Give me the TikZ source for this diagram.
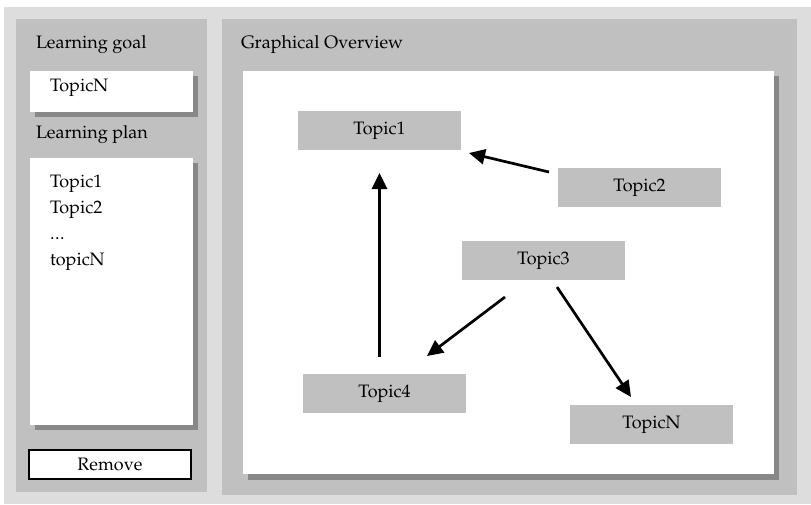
\documentclass[tikz,border=0pt]{standalone}
\usepackage[T1]{fontenc}
\usepackage{mathpazo}
\usetikzlibrary{arrows.meta,calc}
\definecolor{outergray}{HTML}{DDDDDD}
\definecolor{panelgray}{HTML}{C0C0C0}
\definecolor{shadowgray}{HTML}{888888}
\begin{document}
\begin{tikzpicture}[x=1pt,y=-1pt,
  every node/.style={inner sep=0pt,outer sep=0pt,font=\fontsize{18}{21}\selectfont},
  box/.style={anchor=north west,minimum width=#1,draw=none},
  panel/.style={fill=panelgray},
  whitebox/.style={fill=white},
  topic/.style={anchor=north west,fill=panelgray,minimum width=163pt,minimum height=39pt},
  lbl/.style={anchor=base west},
  arr/.style={line width=2.7pt,-{Triangle[length=16pt,width=15pt]}}
]
\useasboundingbox (0,0) rectangle (811,504);
\fill[white] (0,0) rectangle (811,504);
% outer background
\node[box=807pt,minimum height=497pt,fill=outergray] (bg) at (4,7) {};
% left panel
\node[box=191pt,minimum height=473pt,panel] (lp) at (16,19) {};
% right panel
\node[box=575pt,minimum height=476pt,panel] (rp) at (222,19) {};
% canvas with shadow
\node[box=531pt,minimum height=404pt,fill=shadowgray] (cvs) at (248,76) {};
\node[box=531pt,minimum height=403pt,whitebox] (cv) at (243,71) {};
% learning goal box
\node[box=163pt,minimum height=41pt,fill=shadowgray] (gbs) at (35,76) {};
\node[box=163pt,minimum height=41pt,whitebox] (gb) at (30,71) {};
% learning plan box
\node[box=163pt,minimum height=267pt,fill=shadowgray] (pbs) at (35,163) {};
\node[box=163pt,minimum height=267pt,whitebox] (pb) at (30,158) {};
% remove button
\node[anchor=north west,minimum width=162.3pt,minimum height=29.3pt,fill=white,draw=black,line width=1.7pt] (rm) at (28.85,449.85) {Remove};
% texts
\node[lbl] (tgoal) at (36,48) {Learning goal};
\node[lbl] (tgoaln) at (50,91) {TopicN};
\node[lbl] (tplan) at (36,138) {Learning plan};
\node[lbl] (l1) at (50,187) {Topic1};
\node[lbl] (l2) at (50,213) {Topic2};
\node[lbl] (l3) at (50,239) {.\kern0.6pt.\kern0.6pt.};
\node[lbl] (l4) at (50,265) {topicN};
\node[lbl] (tgo) at (241,48) {Graphical Overview};
% topics
\node[topic] (t1) at (298,111) {Topic1};
\node[topic] (t2) at (558,168) {Topic2};
\node[topic] (t3) at (462,241) {Topic3};
\node[topic] (t4) at (303,374) {Topic4};
\node[topic] (tn) at (570,405) {TopicN};
% arrows
\draw[arr] ($(t2.north west)+(-9,4)$) -- ($(t1.south east)+(8,3)$);
\draw[arr] ($(t1.south)+(0,207)$) -- ($(t1.south)+(0,23)$);
\draw[arr] ($(t3.south west)+(43,17)$) -- ($(t4.north west)+(124,-18)$);
\draw[arr] ($(t3.south west)+(95,7)$) -- ($(tn.north west)+(61,-8)$);
\end{tikzpicture}
\end{document}
